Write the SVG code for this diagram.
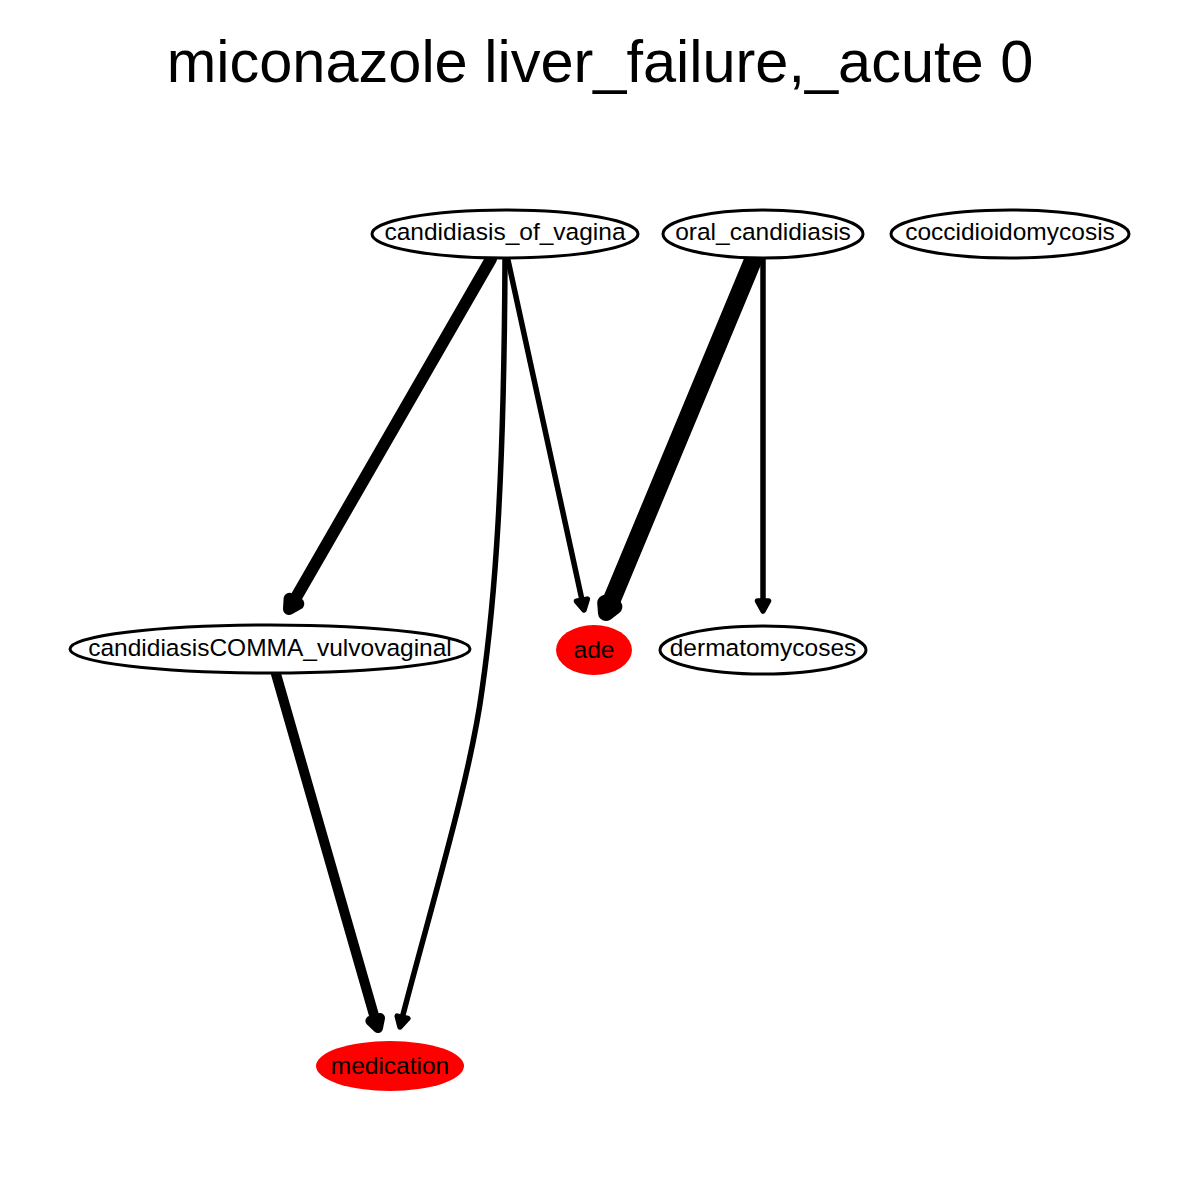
<svg xmlns="http://www.w3.org/2000/svg" width="1200" height="1200" viewBox="0 0 1200 1200">
<style>
.title{font-family:"Liberation Sans",Arial,sans-serif;font-size:59.5px;fill:#000;text-anchor:middle}
.lbl{font-family:"Liberation Sans",Arial,sans-serif;font-size:24.5px;fill:#000;text-anchor:middle}
.node{fill:#fff;stroke:#000;stroke-width:3}
.red{fill:#ff0000;stroke:none}
.edge{fill:none;stroke:#000;stroke-linecap:round;stroke-linejoin:round}
.head{fill:#000;stroke:#000;stroke-linejoin:round}
</style>
<rect width="1200" height="1200" fill="#fff"/>
<text class="title" x="600" y="82">miconazole liver_failure,_acute 0</text>
<g id="connectors">
  <g id="e1">
    <path class="edge" style="stroke-width:12" d="M491,259 L294,601"/>
    <polygon class="head" style="stroke-width:12" points="289,609 298.3,603.8 289.6,598.8"/>
  </g>
  <g id="e2">
    <path class="edge" style="stroke-width:5.5" d="M505,260 C504,480 495,600 482,690 C470,780 430,910 402.4,1017"/>
    <polygon class="head" style="stroke-width:5.5" points="400,1027 407.8,1018.5 397.2,1016.1"/>
  </g>
  <g id="e3">
    <path class="edge" style="stroke-width:5.5" d="M508,260 L582,600"/>
    <polygon class="head" style="stroke-width:5.5" points="584,610 587.3,599.1 576.5,601.3"/>
  </g>
  <g id="e4">
    <path class="edge" style="stroke-width:18" d="M754,258 L609.8,604.8"/>
    <polygon class="head" style="stroke-width:16" points="606,613 614.4,606.7 605.2,602.9"/>
  </g>
  <g id="e5">
    <path class="edge" style="stroke-width:5.5" d="M763,260 L763,601"/>
    <polygon class="head" style="stroke-width:5.5" points="763,611 768.5,601 757.5,601"/>
  </g>
  <g id="e6">
    <path class="edge" style="stroke-width:10" d="M276,674 L375.2,1019.4"/>
    <polygon class="head" style="stroke-width:10" points="378,1028 380,1018 370.4,1020.8"/>
  </g>
</g>
<g id="candidiasis_of_vagina">
  <ellipse class="node" cx="505" cy="234" rx="133" ry="24"/>
  <text class="lbl" x="505" y="240">candidiasis_of_vagina</text>
</g>
<g id="oral_candidiasis">
  <ellipse class="node" cx="763" cy="234" rx="100" ry="24"/>
  <text class="lbl" x="763" y="240">oral_candidiasis</text>
</g>
<g id="coccidioidomycosis">
  <ellipse class="node" cx="1010" cy="234" rx="119" ry="24"/>
  <text class="lbl" x="1010" y="240">coccidioidomycosis</text>
</g>
<g id="candidiasisCOMMA_vulvovaginal">
  <ellipse class="node" cx="270" cy="649" rx="200" ry="24"/>
  <text class="lbl" x="270" y="656">candidiasisCOMMA_vulvovaginal</text>
</g>
<g id="ade">
  <ellipse class="red" cx="594" cy="650" rx="38" ry="25"/>
  <text class="lbl" x="594" y="658">ade</text>
</g>
<g id="dermatomycoses">
  <ellipse class="node" cx="763" cy="650" rx="103" ry="24"/>
  <text class="lbl" x="763" y="656">dermatomycoses</text>
</g>
<g id="medication">
  <ellipse class="red" cx="390" cy="1066" rx="74" ry="25"/>
  <text class="lbl" x="390" y="1074">medication</text>
</g>
</svg>
